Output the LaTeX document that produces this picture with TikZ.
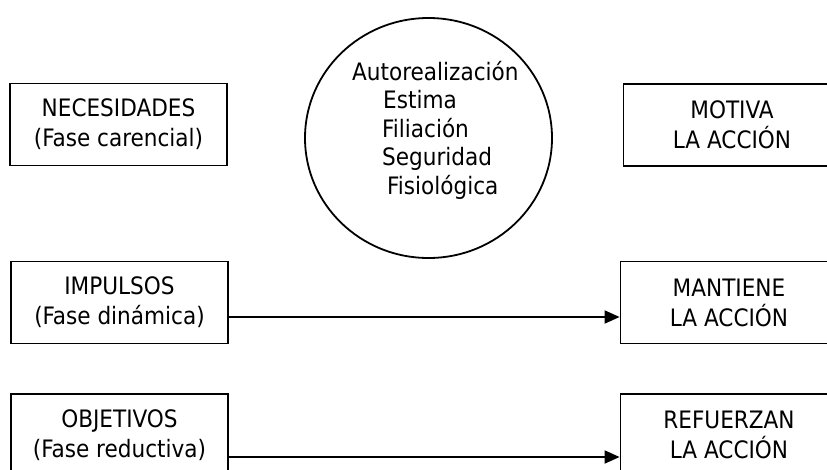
\documentclass[tikz,border=0pt]{standalone}
\usepackage{fontspec}
\setmainfont{DejaVu Sans Condensed}
\usetikzlibrary{arrows.meta,shapes.geometric}
\begin{document}
\begin{tikzpicture}[x=1pt,y=-1pt,
  every node/.style={font=\fontsize{24}{30}\selectfont},
  boxnode/.style={draw,line width=1.8pt,rectangle,minimum width=217pt,minimum height=82pt,align=center,inner sep=0pt},
  ellline/.style={anchor=base west,inner sep=0pt},
  conn/.style={line width=1.8pt,-{Triangle[length=15pt,width=13pt]}}]
\useasboundingbox (0,0) rectangle (827,469);
\clip (0,0) rectangle (827,469);
\fill[white] (0,0) rectangle (827,469);
% left boxes
\node[boxnode] (nec) at (118.5,124.5) {NECESIDADES\\(Fase carencial)};
\node[boxnode] (imp) at (119.5,302.5) {IMPULSOS\\(Fase dinámica)};
\node[boxnode] (obj) at (119.5,435) {OBJETIVOS\\(Fase reductiva)};
% right boxes (cut by the border)
\node[boxnode] (mot) at (732,125) {MOTIVA\\LA ACCIÓN};
\node[boxnode] (man) at (729,302.5) {MANTIENE\\LA ACCIÓN};
\node[boxnode] (ref) at (729,435) {REFUERZAN\\LA ACCIÓN};
% ellipse
\node[draw,line width=1.8pt,ellipse,minimum width=247pt,minimum height=240pt,inner sep=0pt] (ell) at (428.5,138) {};
\node[ellline] (l1) at (352,80) {Autorealización};
\node[ellline] (l2) at (383,108.5) {Estima};
\node[ellline] (l3) at (382,137) {Filiación};
\node[ellline] (l4) at (382,165.5) {Seguridad};
\node[ellline] (l5) at (387,194.5) {Fisiológica};
% connectors
\draw[conn] ([yshift=-14.5pt]imp.east) -- ([yshift=-14.5pt]man.west);
\draw[conn] ([yshift=-22pt]obj.east) -- ([yshift=-22pt]ref.west);
\end{tikzpicture}
\end{document}
